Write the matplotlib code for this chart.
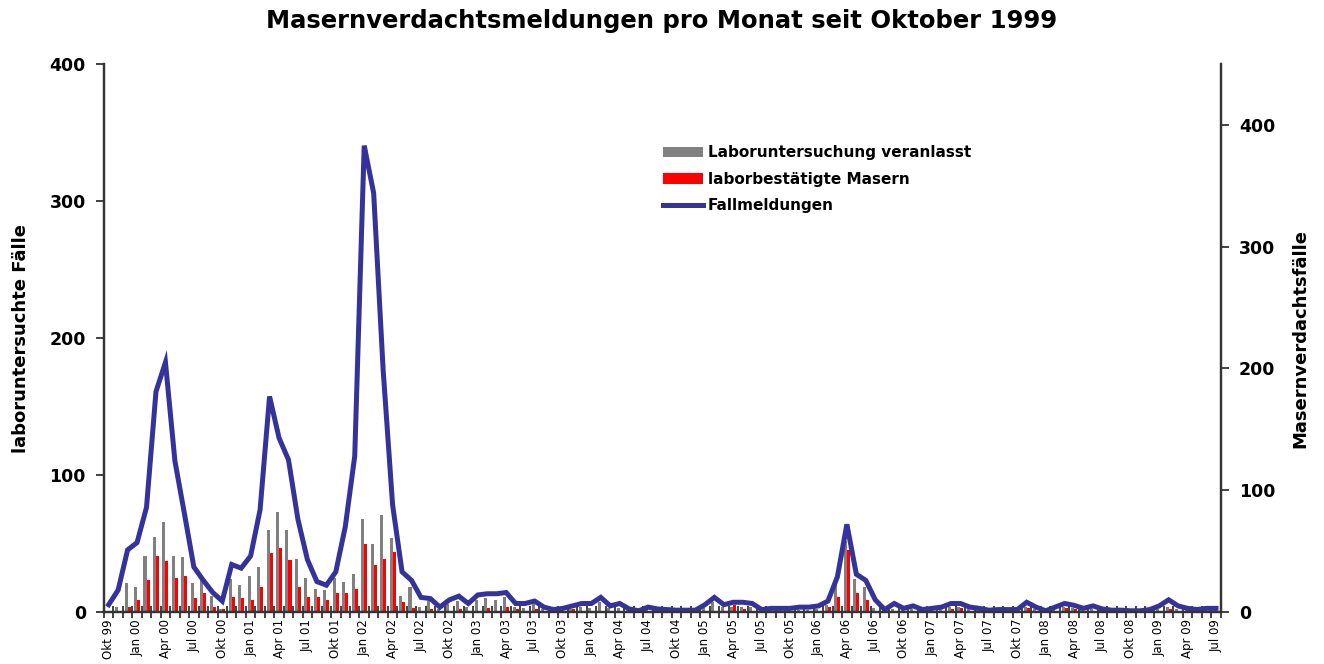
import matplotlib
matplotlib.use("Agg")
import matplotlib.pyplot as plt
from matplotlib.patches import Patch
from matplotlib.lines import Line2D
import numpy as np

plt.rcParams['font.family'] = ['DejaVu Sans']

# Monthly values Okt 1999 .. Jul 2009 (118 months)
lab_veranlasst = [1, 4, 21, 18, 41, 55, 66, 41, 40, 21, 23, 12,
                  2, 24, 20, 26, 33, 60, 73, 60, 39, 25, 17, 16,
                  25, 22, 28, 68, 50, 71, 54, 12, 18, 4, 8, 2,
                  6, 8, 4, 9, 10, 9, 11, 4, 3, 6, 2, 2,
                  2, 2, 4, 3, 7, 3, 3, 2, 2, 2, 1, 1.5,
                  1.5, 1.5, 1.5, 3, 7, 4, 4, 4, 4, 1, 1.5, 1.5,
                  1.5, 1.5, 1.5, 2, 5, 22, 52, 24, 18, 3, 2, 2,
                  2, 2, 2, 2, 2, 4, 4, 3, 2, 2, 2, 2,
                  2, 4, 2, 1, 2, 3.5, 3, 2, 2, 1.5, 1.5, 1.5,
                  1.5, 1.5, 1.5, 2, 3.5, 2, 1.5, 1.5, 1.5, 1.5]

lab_bestaetigt = [0, 1, 4, 9, 23, 41, 37, 25, 26, 10, 14, 4,
                  2, 11, 10, 9, 18, 43, 47, 38, 18, 11, 11, 9,
                  14, 14, 17, 50, 34, 39, 44, 7, 3, 1, 2, 0,
                  1, 2, 0, 1, 3, 1, 4, 2, 1, 2, 0, 0,
                  0, 2, 0, 0, 1, 1, 0, 0, 0, 0, 0, 0,
                  0, 0, 0, 1, 1, 0, 5, 2, 1, 0, 0, 0,
                  0, 0, 0, 0, 4, 11, 45, 14, 9, 1, 0, 0,
                  0, 1, 0, 0, 1, 2, 3, 1, 0, 0, 0, 0,
                  0, 3, 1, 0, 0, 3, 2, 0, 0, 0, 0, 0,
                  0, 0, 0, 1, 2, 0, 0, 0, 0, 0]

fallmeldungen = [6, 18, 51, 57, 86, 181, 205, 124, 81, 37, 26, 16,
                 9, 39, 36, 46, 84, 177, 143, 125, 76, 43, 25, 22,
                 33, 70, 128, 383, 344, 199, 88, 33, 26, 12, 11, 4,
                 10, 13, 7, 14, 15, 15, 16, 7, 7, 9, 4, 2,
                 3, 5, 7, 7, 12, 5, 7, 2.5, 1, 4, 2.5, 2,
                 1.5, 1.5, 1.5, 6, 12, 6, 8, 8, 7, 2, 3, 3,
                 3, 4, 4, 5, 9, 29, 72, 31, 26, 10, 2, 7,
                 3, 5, 2, 3, 4, 7, 7, 4, 3, 1.5, 2, 2,
                 2, 8, 4, 1, 4, 7, 5.5, 3, 5, 2.5, 1.5, 1.5,
                 1, 1, 2, 5, 10, 5, 3, 2, 3, 3]

tick_labels = ["Okt 99", "Jan 00", "Apr 00", "Jul 00", "Okt 00", "Jan 01", "Apr 01", "Jul 01",
               "Okt 01", "Jan 02", "Apr 02", "Jul 02", "Okt 02", "Jan 03", "Apr 03", "Jul 03",
               "Okt 03", "Jan 04", "Apr 04", "Jul 04", "Okt 04", "Jan 05", "Apr 05", "Jul 05",
               "Okt 05", "Jan 06", "Apr 06", "Jul 06", "Okt 06", "Jan 07", "Apr 07", "Jul 07",
               "Okt 07", "Jan 08", "Apr 08", "Jul 08", "Okt 08", "Jan 09", "Apr 09", "Jul 09"]

n = len(fallmeldungen)
x = np.arange(n)

fig = plt.figure(figsize=(13.24, 6.64), dpi=100)
ax = fig.add_axes([0.0785, 0.0783, 0.8435, 0.8253])
ax2 = ax.twinx()

gray = '#808080'
red = '#FF0000'
blue = '#333399'
bw = 0.32
ax.bar(x - bw / 2, lab_veranlasst, width=bw, color=gray, linewidth=0)
ax.bar(x + bw / 2, lab_bestaetigt, width=bw, color=red, linewidth=0)
ax2.plot(x, fallmeldungen, color=blue, lw=3.6, solid_joinstyle='miter')

ax.set_xlim(-0.5, n - 0.5)
ax.set_ylim(0, 400)
ax2.set_ylim(0, 450)

ax.set_yticks([0, 100, 200, 300, 400])
ax2.set_yticks([0, 100, 200, 300, 400])
for a in (ax, ax2):
    a.tick_params(axis='y', direction='out', length=6, width=1.2, colors='#222222',
                  labelsize=12.5, pad=7)
    for lbl in a.get_yticklabels():
        lbl.set_fontweight('bold')
        lbl.set_color('black')

ax.set_xticks(np.arange(0, n, 3))
ax.set_xticklabels(tick_labels, rotation=90, fontsize=8.5)
ax.set_xticks(np.arange(-0.5, n, 1), minor=True)
ax.tick_params(axis='x', which='major', length=0, pad=5)
ax.tick_params(axis='x', which='minor', direction='inout', length=8, width=1.2, colors='#222222')

for a in (ax, ax2):
    a.spines['top'].set_visible(False)
    for s in ('left', 'right', 'bottom'):
        a.spines[s].set_linewidth(1.6)
        a.spines[s].set_color('#333333')

ax.set_ylabel('laboruntersuchte Fälle', fontsize=13, fontweight='bold')
ax2.set_ylabel('Masernverdachtsfälle', fontsize=13, fontweight='bold')
ax.yaxis.set_label_coords(-0.066, 0.5)
ax2.yaxis.set_label_coords(1.063, 0.5)

fig.text(0.5, 0.968, 'Masernverdachtsmeldungen pro Monat seit Oktober 1999',
         ha='center', va='center', fontsize=17.5, fontweight='bold')

handles = [Patch(facecolor=gray, edgecolor='none'),
           Patch(facecolor=red, edgecolor='none'),
           Line2D([0], [0], color=blue, lw=3.6)]
labels = ['Laboruntersuchung veranlasst', 'laborbestätigte Masern', 'Fallmeldungen']
leg = ax2.legend(handles, labels, loc='upper left', bbox_to_anchor=(0.5008, 0.781),
                 bbox_transform=fig.transFigure, frameon=False, fontsize=11,
                 handlelength=2.6, handleheight=0.65, handletextpad=0.33,
                 labelspacing=0.75, borderpad=0, borderaxespad=0)
for t in leg.get_texts():
    t.set_fontweight('bold')

fig.savefig('out.png', dpi=100)
